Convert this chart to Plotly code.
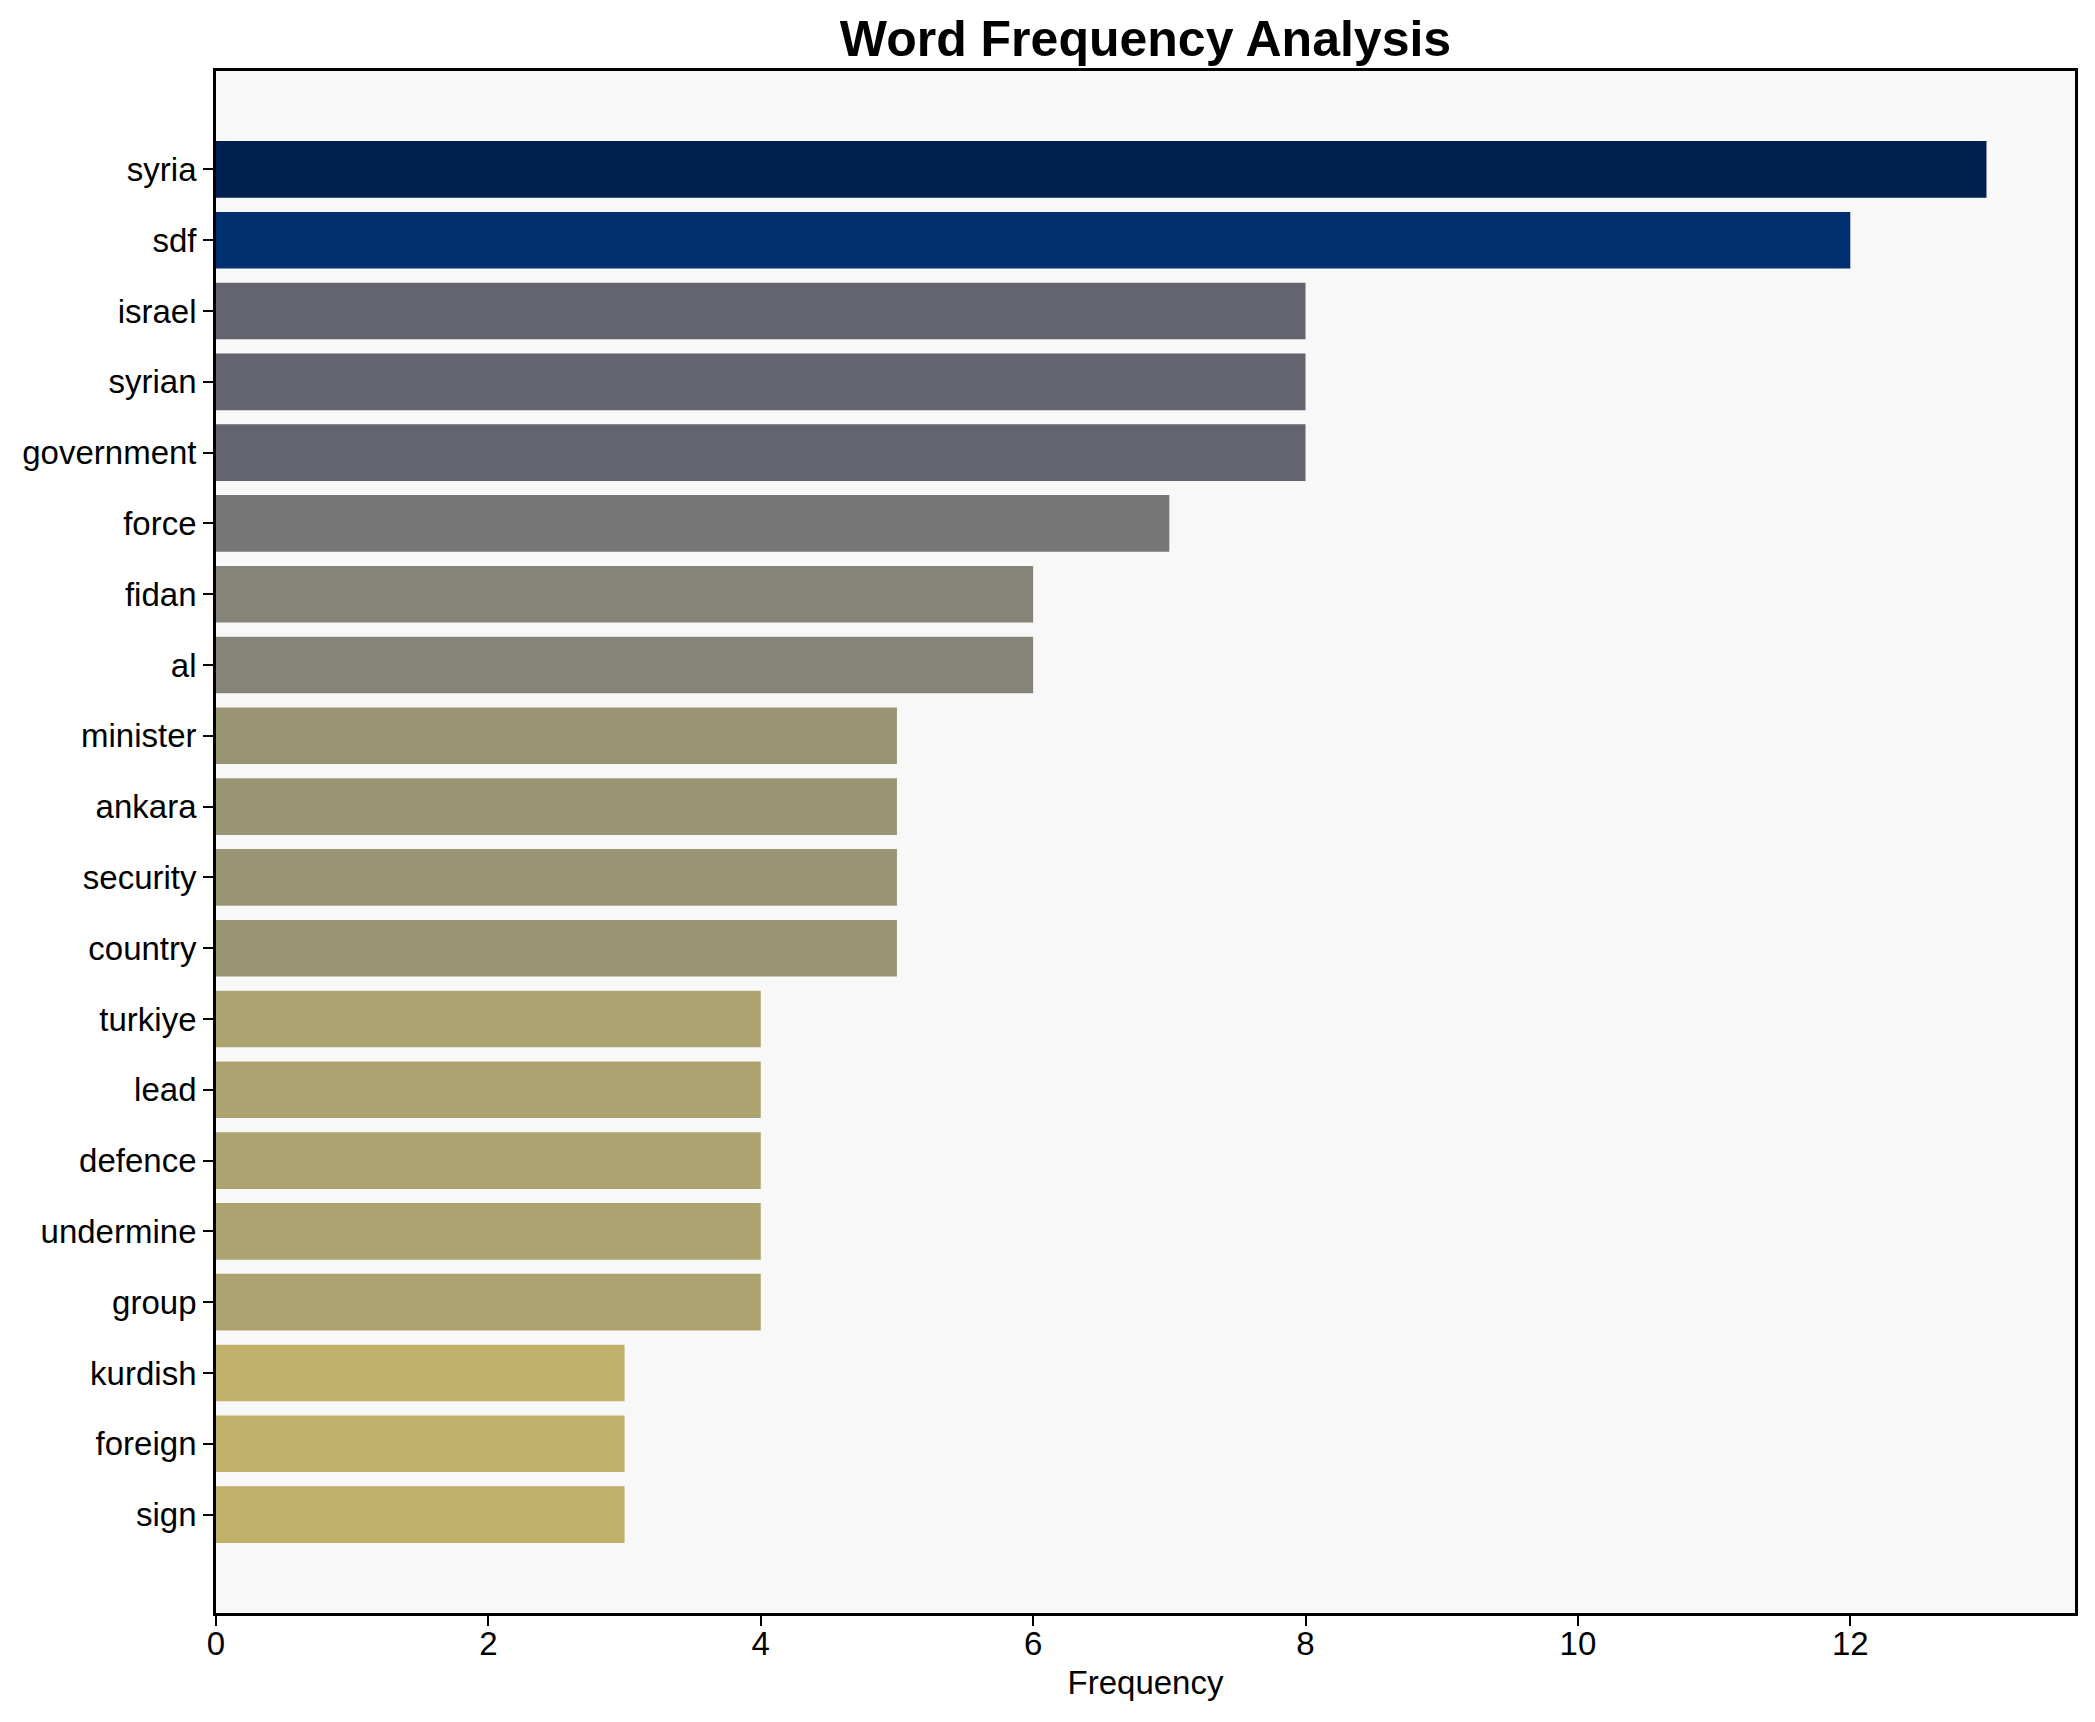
import plotly.graph_objects as go

words = ["syria", "sdf", "israel", "syrian", "government", "force", "fidan", "al",
         "minister", "ankara", "security", "country", "turkiye", "lead", "defence",
         "undermine", "group", "kurdish", "foreign", "sign"]
freqs = [13, 12, 8, 8, 8, 7, 6, 6, 5, 5, 5, 5, 4, 4, 4, 4, 4, 3, 3, 3]

# colour per frequency level
level_colors = {13: "#00214f", 12: "#002f6f", 8: "#63646f", 7: "#767676",
                6: "#868478", 5: "#999474", 4: "#ada371", 3: "#c1b069"}
bar_colors = [level_colors[v] for v in freqs]

FONT = "Liberation Sans, Arial, sans-serif"
W, H = 2087, 1714

fig = go.Figure(go.Bar(
    x=freqs, y=words, orientation="h",
    marker=dict(color=bar_colors, line=dict(width=0)),
))

n = len(words)
fig.update_layout(
    width=W, height=H,
    margin=dict(l=208, r=20, t=63, b=109),
    paper_bgcolor="white", plot_bgcolor="#f8f8f8",
    bargap=0.2, showlegend=False,
    font=dict(family=FONT, size=33, color="black"),
    title=dict(text="Word Frequency Analysis", x=0.5, xref="paper", xanchor="center",
               y=1 - 30 / H, yref="container", yanchor="middle",
               font=dict(family=FONT, size=50, color="black", weight="bold")),
)
fig.update_xaxes(
    range=[0, 13.65], dtick=2, tick0=0, showgrid=False, zeroline=False,
    showline=True, mirror=True, linecolor="black", linewidth=2.8,
    ticks="outside", ticklen=10, tickwidth=2.2, tickcolor="black",
    ticklabelstandoff=-11,
    tickfont=dict(family=FONT, size=33, color="black"),
    title=dict(text="Frequency", font=dict(family=FONT, size=33, color="black"), standoff=11),
)
fig.update_yaxes(
    type="category", categoryorder="array", categoryarray=words,
    range=[n - 1 + 1.39, -1.39], showgrid=False, zeroline=False,
    showline=True, mirror=True, linecolor="black", linewidth=2.8,
    ticks="outside", ticklen=10, tickwidth=2.2, tickcolor="black",
    tickfont=dict(family=FONT, size=33, color="black"),
)

fig.write_html("out.html")
